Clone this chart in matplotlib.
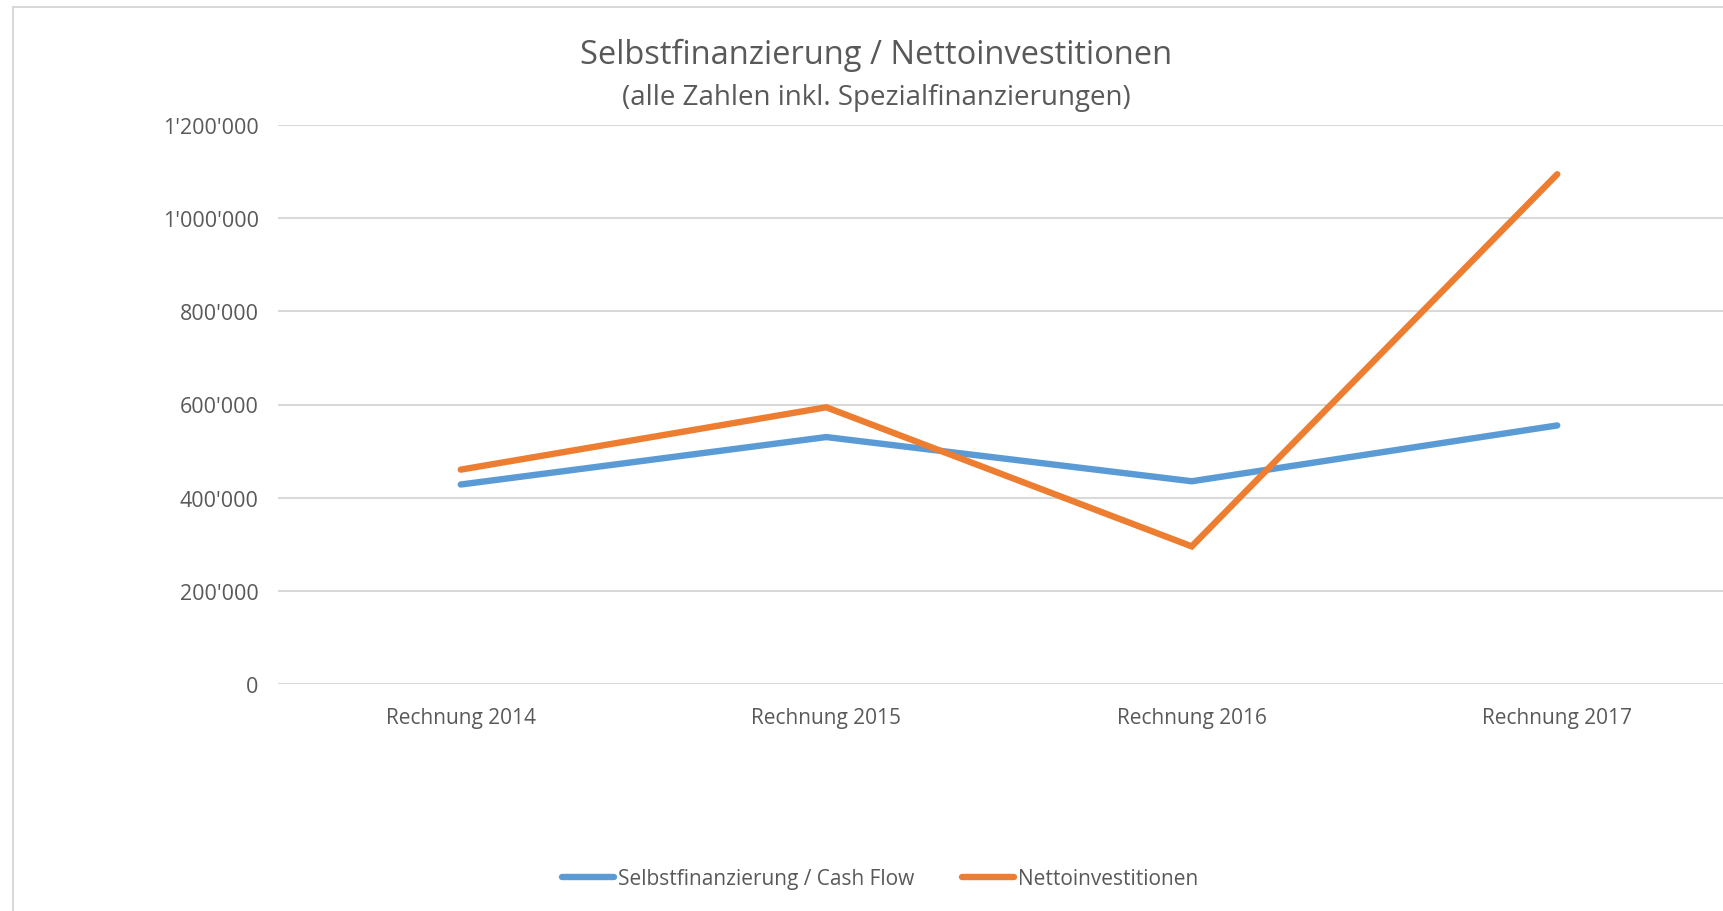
import matplotlib
matplotlib.use("Agg")
import matplotlib.pyplot as plt
from matplotlib.lines import Line2D
from matplotlib.ticker import FuncFormatter

categories = ["Rechnung 2014", "Rechnung 2015", "Rechnung 2016", "Rechnung 2017"]
cash_flow = [428000, 530000, 435000, 555000]
netto_inv = [460000, 594000, 295000, 1095000]
series_names = ["Selbstfinanzierung / Cash Flow", "Nettoinvestitionen"]
title = "Selbstfinanzierung / Nettoinvestitionen"
subtitle = "(alle Zahlen inkl. Spezialfinanzierungen)"
y_ticks = [0, 200000, 400000, 600000, 800000, 1000000, 1200000]

FONT = "Open Sans"
TXT = "#595959"
GRID = "#D9D9D9"
BLUE = "#5B9BD5"
ORANGE = "#ED7D31"

plt.rcParams["font.family"] = [FONT, "DejaVu Sans"]

W, H = 1723, 912
fig = plt.figure(figsize=(W / 100, H / 100), dpi=100)
fig.patch.set_facecolor("white")

left, right = 278 / W, 1740 / W
top, bottom = 1 - 126.4 / H, 1 - 684.6 / H
ax = fig.add_axes([left, bottom, right - left, top - bottom])
ax.set_facecolor("none")

x = list(range(len(categories)))
ax.plot(x, cash_flow, color=BLUE, lw=4.6, solid_capstyle="round", solid_joinstyle="miter", zorder=3)
ax.plot(x, netto_inv, color=ORANGE, lw=4.6, solid_capstyle="round", solid_joinstyle="miter", zorder=3)

ax.set_xlim(-0.5, 3.5)
ax.set_ylim(0, 1200000)
ax.set_yticks(y_ticks)
ax.yaxis.set_major_formatter(FuncFormatter(lambda v, p: f"{int(v):,}".replace(",", "'")))
ax.set_xticks(x)
ax.set_xticklabels(categories)
ax.grid(axis="y", color=GRID, lw=1.5)
ax.set_axisbelow(True)
for s in ax.spines.values():
    s.set_visible(False)
ax.tick_params(axis="both", length=0, colors=TXT)
ax.tick_params(axis="y", pad=14, labelsize=15.5)
ax.tick_params(axis="x", pad=17, labelsize=15)

cx = 876 / W
fig.text(cx, 1 - 55 / H, title, ha="center", va="center", fontsize=23.5, color=TXT)
fig.text(cx, 1 - 98 / H, subtitle, ha="center", va="center", fontsize=20, color=TXT)

handles = [Line2D([], [], color=BLUE, lw=4.6, solid_capstyle="round"),
           Line2D([], [], color=ORANGE, lw=4.6, solid_capstyle="round")]
fig.legend(handles, series_names, loc="center", bbox_to_anchor=(880 / W, 1 - 880 / H),
           ncol=2, frameon=False, fontsize=15, labelcolor=TXT, handlelength=2.5,
           handletextpad=0.2, columnspacing=2.3)

# chart border (top and left visible in cropped reference)
fig.add_artist(Line2D([13 / W, 13 / W], [0, 1 - 7.5 / H], color=GRID, lw=1.5, transform=fig.transFigure))
fig.add_artist(Line2D([13 / W, 1], [1 - 7.5 / H, 1 - 7.5 / H], color=GRID, lw=1.5, transform=fig.transFigure))

fig.savefig("out.png", dpi=100)
